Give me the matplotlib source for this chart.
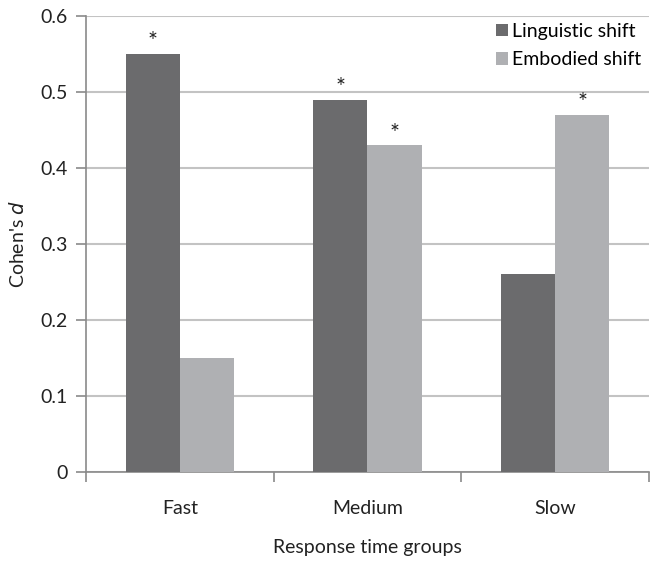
import matplotlib.pyplot as plt
import numpy as np

# data
groups = ['Fast', 'Medium', 'Slow']
linguistic = [0.55, 0.49, 0.26]
embodied = [0.15, 0.43, 0.47]
sig_linguistic = [True, True, False]
sig_embodied = [False, True, True]

dark = '#6b6b6d'
light = '#afb0b3'
grid_c = '#c3c3c3'
spine_c = '#8a8a8a'

plt.rcParams['font.family'] = ['Lato', 'DejaVu Sans']

fig = plt.figure(figsize=(6.51, 5.61), dpi=100)
ax = fig.add_axes([0.132, 0.1586, 0.865, 0.813])

x = np.arange(len(groups))
w = 0.288
b1 = ax.bar(x - w / 2, linguistic, w, color=dark, label='Linguistic shift', zorder=3)
b2 = ax.bar(x + w / 2, embodied, w, color=light, label='Embodied shift', zorder=3)

for bars, sig in ((b1, sig_linguistic), (b2, sig_embodied)):
    for r, s in zip(bars, sig):
        if s:
            ax.text(r.get_x() + r.get_width() / 2, r.get_height() + 0.002, '*',
                    ha='center', va='bottom', fontsize=17, color='#222222')

ax.set_xlim(-0.5, 2.5)
ax.set_ylim(0, 0.6)
ax.set_yticks([0, 0.1, 0.2, 0.3, 0.4, 0.5, 0.6])
ax.set_yticklabels(['0', '0.1', '0.2', '0.3', '0.4', '0.5', '0.6'])
ax.yaxis.grid(True, color=grid_c, linewidth=1.5, zorder=0)

ax.set_xticks(x)
ax.set_xticklabels(groups)
ax.set_xticks([-0.5, 0.5, 1.5, 2.5], minor=True)
ax.tick_params(axis='x', which='major', length=0, pad=20, labelsize=14, colors='#222222')
ax.tick_params(axis='x', which='minor', length=7, width=1.2, color=spine_c)
ax.tick_params(axis='y', length=7, width=1.2, color=spine_c, labelsize=14, labelcolor='#222222', pad=6)

for s in ('top', 'right'):
    ax.spines[s].set_visible(False)
for s in ('left', 'bottom'):
    ax.spines[s].set_color(spine_c)
    ax.spines[s].set_linewidth(1.2)

ax.set_xlabel('Response time groups', fontsize=14, color='#222222', labelpad=16)
ax.set_ylabel("Cohen's $d$", fontsize=14, color='#222222', labelpad=10)

leg = ax.legend(loc='upper right', bbox_to_anchor=(1.01, 1.015), frameon=True, fontsize=14,
                handlelength=0.6, handleheight=0.6, handletextpad=0.2,
                labelspacing=0.6, borderpad=0.2)
leg.get_frame().set_edgecolor('none')
leg.get_frame().set_facecolor('white')
leg.get_frame().set_alpha(1)

fig.savefig('out.png', dpi=100)
